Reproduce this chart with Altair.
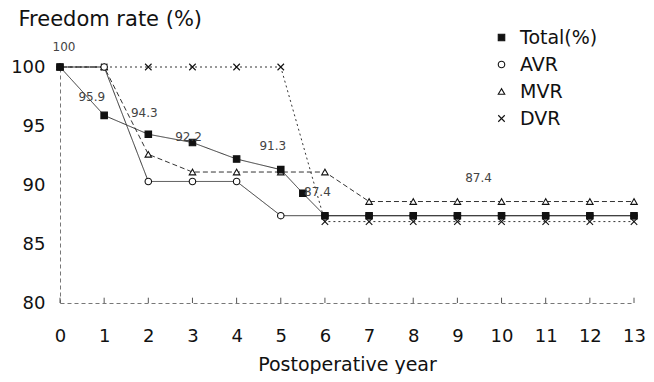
import altair as alt
import pandas as pd

# ---- data ----
years = [0, 1, 2, 3, 4, 5, 6, 7, 8, 9, 10, 11, 12, 13]
total_years = [0, 1, 2, 3, 4, 5, 5.5, 6, 7, 8, 9, 10, 11, 12, 13]
total_vals = [100, 95.9, 94.3, 93.6, 92.2, 91.3, 89.3, 87.4, 87.4, 87.4, 87.4, 87.4, 87.4, 87.4, 87.4]
avr_vals = [100, 100, 90.3, 90.3, 90.3, 87.4, 87.4, 87.4, 87.4, 87.4, 87.4, 87.4, 87.4, 87.4]
mvr_vals = [100, 100, 92.6, 91.1, 91.1, 91.1, 91.1, 88.6, 88.6, 88.6, 88.6, 88.6, 88.6, 88.6]
dvr_vals = [100, 100, 100, 100, 100, 100, 86.9, 86.9, 86.9, 86.9, 86.9, 86.9, 86.9, 86.9]

series_names = ["Total(%)", "AVR", "MVR", "DVR"]
series_dash = [[1, 0], [1, 0], [5, 3], [2, 3]]

label_text = ["100", "95.9", "94.3", "92.2", "91.3", "87.4", "87.4"]
label_x = [0.09, 0.72, 1.91, 2.91, 4.82, 5.83, 9.48]
label_y = [101.7, 97.46, 96.1, 94.07, 93.3, 89.4, 90.6]

# ---- tables ----
rows = []
for x, v in zip(total_years, total_vals):
    rows.append({"year": x, "rate": v, "series": "Total(%)", "ord": 4})
for name, vals, o in [("AVR", avr_vals, 3), ("MVR", mvr_vals, 2), ("DVR", dvr_vals, 1)]:
    for x, v in zip(years, vals):
        rows.append({"year": x, "rate": v, "series": name, "ord": o})
df = pd.DataFrame(rows)
labels = pd.DataFrame({"x": label_x, "y": label_y, "t": label_text})
ticks = pd.DataFrame({"year": years, "y0": [80] * len(years), "y1": [80.45] * len(years)})

FONT = "DejaVu Sans"
xscale = alt.Scale(domain=[0, 13], nice=False, zero=False)
yscale = alt.Scale(domain=[80, 100], nice=False, zero=False)

x_axis = alt.Axis(
    values=years, format="d", title="Postoperative year", grid=False, ticks=False,
    domainDash=[4, 3], domainColor="#777", labelFont=FONT, labelFontSize=18,
    labelColor="#111", labelPadding=24, labelFlush=False,
    titleFont=FONT, titleFontSize=19, titleFontWeight="normal", titleColor="#111",
    titleY=61, titleBaseline="middle",
)
y_axis = alt.Axis(
    values=[80, 85, 90, 95, 100], title="Freedom rate (%)", grid=False, ticks=False,
    domainDash=[4, 3], domainColor="#777", labelFont=FONT, labelFontSize=18,
    labelColor="#111", labelPadding=15,
    titleFont=FONT, titleFontSize=21, titleFontWeight="normal", titleColor="#111",
    titleAngle=0, titleAlign="left", titleBaseline="middle", titleX=-42, titleY=-48,
)

tick_layer = alt.Chart(ticks).mark_rule(color="#555", strokeWidth=1).encode(
    x=alt.X("year:Q", scale=xscale, axis=x_axis),
    y=alt.Y("y0:Q", scale=yscale, axis=y_axis),
    y2="y1:Q",
)

line_layers = []
for name, dash in zip(series_names, series_dash):
    line_layers.append(
        alt.Chart(df).transform_filter(alt.datum.series == name)
        .mark_line(color="#333", strokeWidth=1, strokeDash=dash)
        .encode(x=alt.X("year:Q", scale=xscale), y=alt.Y("rate:Q", scale=yscale))
    )

x_path = "M-1,-1L1,1M-1,1L1,-1"
leg = alt.Legend(
    title=None, orient="none", legendX=432, legendY=-39, padding=0,
    labelFont=FONT, labelFontSize=19, labelColor="#111", labelOffset=9,
    rowPadding=7, symbolSize=42, symbolStrokeWidth=1.1,
)
points = alt.Chart(df).mark_point(filled=False, strokeWidth=1.1, size=42, opacity=1).encode(
    x=alt.X("year:Q", scale=xscale),
    y=alt.Y("rate:Q", scale=yscale),
    shape=alt.Shape(
        "series:N",
        scale=alt.Scale(domain=series_names, range=["square", "circle", "triangle-up", x_path]),
        legend=leg,
    ),
    fill=alt.Fill(
        "series:N",
        scale=alt.Scale(domain=series_names, range=["#111", "white", "white", "white"]),
        legend=leg,
    ),
    stroke=alt.Stroke(
        "series:N",
        scale=alt.Scale(domain=series_names, range=["#111", "#111", "#111", "#111"]),
        legend=leg,
    ),
    order=alt.Order("ord:Q"),
)

texts = alt.Chart(labels).mark_text(font=FONT, fontSize=12, color="#444").encode(
    x=alt.X("x:Q", scale=xscale),
    y=alt.Y("y:Q", scale=yscale),
    text="t:N",
)

chart = alt.layer(tick_layer, *line_layers, points, texts).properties(
    width=574, height=236,
    background="white",
    autosize=alt.AutoSizeParams(type="none"),
    padding={"left": 52, "top": 59, "right": 12, "bottom": 71},
).configure_view(stroke=None)

chart.save("out.html", embed_options={"renderer": "svg", "actions": False})
